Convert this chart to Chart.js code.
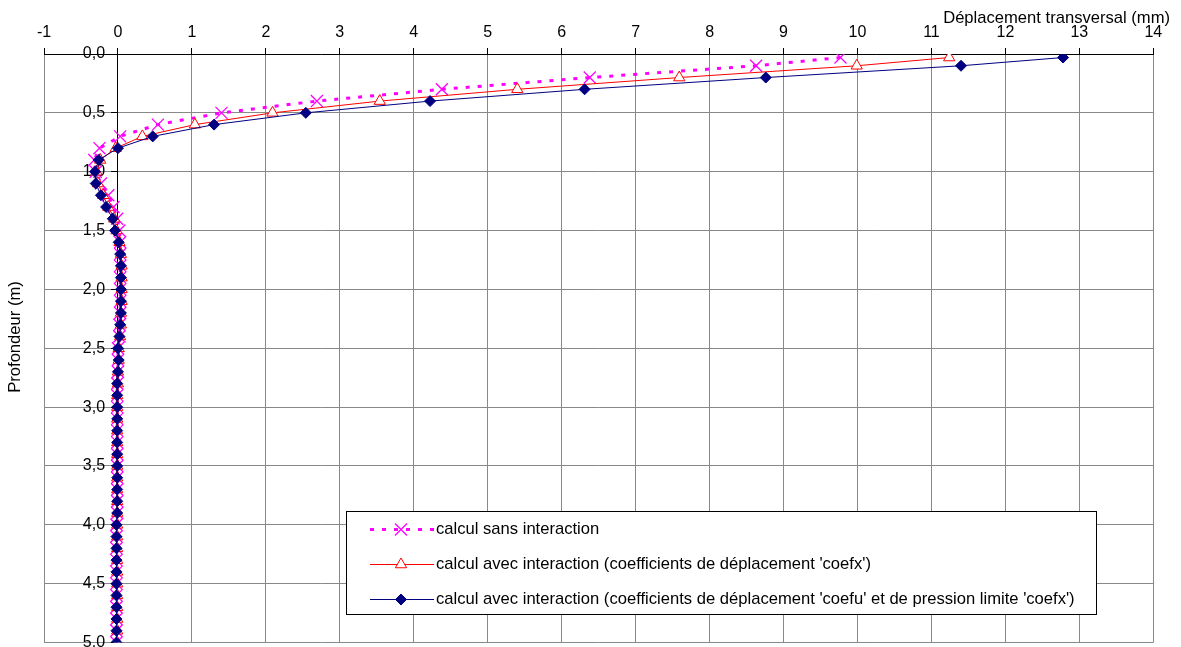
<!DOCTYPE html>
<html><head><meta charset="utf-8">
<script src="https://cdn.jsdelivr.net/npm/chart.js@4/dist/chart.umd.min.js"></script>
<style>html,body{margin:0;padding:0;background:#fff;overflow:hidden}#wrap{width:1181px;height:647px;position:relative}</style>
</head><body><div id="wrap"><canvas id="c" width="1181" height="647"></canvas></div>
<script>
// Depth (m) of each computed point
const depths = [0.03, 0.1, 0.2, 0.3, 0.4, 0.5, 0.6, 0.7, 0.8, 0.9, 1.0, 1.1, 1.2, 1.3, 1.4, 1.5, 1.6, 1.7, 1.8, 1.9, 2.0, 2.1, 2.2, 2.3, 2.4, 2.5, 2.6, 2.7, 2.8, 2.9, 3.0, 3.1, 3.2, 3.3, 3.4, 3.5, 3.6, 3.7, 3.8, 3.9, 4.0, 4.1, 4.2, 4.3, 4.4, 4.5, 4.6, 4.7, 4.8, 4.9, 5.0];

// Transverse displacement (mm)
const sansInteraction = [9.77, 8.63, 6.38, 4.38, 2.69, 1.40, 0.54, 0.03, -0.25, -0.32, -0.30, -0.23, -0.13, -0.06, -0.01, 0.02, 0.03, 0.03, 0.03, 0.03, 0.03, 0.03, 0.03, 0.02, 0.02, 0.00, 0.00, 0.00, -0.01, -0.01, -0.01, -0.01, -0.01, -0.01, -0.01, -0.01, -0.01, -0.01, -0.01, -0.01, -0.02, -0.02, -0.02, -0.02, -0.02, -0.02, -0.02, -0.02, -0.02, -0.02, -0.02];
const avecCoefx = [11.24, 9.99, 7.59, 5.40, 3.54, 2.09, 1.04, 0.33, -0.03, -0.24, -0.29, -0.27, -0.20, -0.13, -0.05, -0.02, 0.02, 0.04, 0.05, 0.05, 0.05, 0.05, 0.04, 0.04, 0.03, 0.01, 0.01, 0.00, 0.00, -0.01, -0.01, -0.01, -0.01, -0.01, -0.01, -0.01, -0.01, -0.01, -0.01, -0.01, -0.01, -0.01, -0.01, -0.01, -0.01, -0.01, -0.01, -0.01, -0.01, -0.01, -0.01];
const avecCoefu = [12.78, 11.40, 8.76, 6.31, 4.22, 2.54, 1.30, 0.47, 0.00, -0.26, -0.31, -0.30, -0.23, -0.16, -0.07, -0.04, 0.01, 0.03, 0.04, 0.04, 0.04, 0.04, 0.04, 0.03, 0.02, 0.00, 0.01, 0.00, -0.01, -0.01, -0.01, -0.01, -0.01, -0.01, -0.01, -0.01, -0.01, -0.01, -0.01, -0.01, -0.02, -0.02, -0.02, -0.02, -0.02, -0.02, -0.02, -0.02, -0.02, -0.02, -0.02];

const seriesNames = [
  "calcul sans interaction",
  "calcul avec interaction (coefficients de déplacement 'coefx')",
  "calcul avec interaction (coefficients de déplacement 'coefu' et de pression limite 'coefx')"
];
const xTickLabels = ['-1','0','1','2','3','4','5','6','7','8','9','10','11','12','13','14'];
const yTickLabels = ['0,0','0,5','1,0','1,5','2,0','2,5','3,0','3,5','4,0','4,5','5,0'];
const xTitle = 'Déplacement transversal (mm)';
const yTitle = 'Profondeur (m)';

const FONT = '"Liberation Sans", Arial, sans-serif';
const FS = 16;
const FT = 16.6;
const pts = vals => depths.map((d, i) => ({x: vals[i], y: d}));

const overlay = {
  id: 'overlay',
  afterDraw(chart) {
    const ctx = chart.ctx;
    ctx.save();
    ctx.font = FT + 'px ' + FONT;
    ctx.fillStyle = '#000';
    // axis titles
    ctx.textAlign = 'right'; ctx.textBaseline = 'middle';
    ctx.fillText(xTitle, 1170, 18);
    ctx.save();
    ctx.translate(15, 337); ctx.rotate(-Math.PI / 2);
    ctx.textAlign = 'center';
    ctx.fillText(yTitle, 0, 0);
    ctx.restore();
    // legend box
    const L = 346.5, T = 511.5, R = 1096.5, B = 614.5;
    ctx.fillStyle = '#fff'; ctx.fillRect(L, T, R - L, B - T);
    ctx.strokeStyle = '#000'; ctx.lineWidth = 1; ctx.strokeRect(L, T, R - L, B - T);
    chart.data.datasets.forEach((ds, i) => {
      const y = 529.5 + i * 35;
      ctx.beginPath();
      ctx.setLineDash(ds.borderDash || []);
      ctx.lineWidth = ds.borderWidth; ctx.strokeStyle = ds.borderColor;
      ctx.moveTo(370, y); ctx.lineTo(434, y); ctx.stroke();
      ctx.setLineDash([]);
      ctx.fillStyle = ds.pointBackgroundColor; ctx.strokeStyle = ds.pointBorderColor;
      ctx.lineWidth = ds.pointBorderWidth;
      Chart.helpers.drawPoint(ctx, {pointStyle: ds.pointStyle, radius: ds.pointRadius, borderWidth: ds.pointBorderWidth, rotation: 0}, 401, y);
      ctx.fillStyle = '#000';
      ctx.textAlign = 'left'; ctx.textBaseline = 'middle';
      ctx.font = FT + 'px ' + FONT;
      ctx.fillText(seriesNames[i], 436, y);
    });
    ctx.restore();
  }
};

const noPad = s => { s.paddingTop = 0; s.paddingBottom = 0; s.paddingLeft = 0; s.paddingRight = 0; };

new Chart(document.getElementById('c'), {
  type: 'scatter',
  data: {
    datasets: [
      {label: seriesNames[0], data: pts(sansInteraction), showLine: true, order: 2,
       borderColor: '#FF00FF', borderWidth: 3, borderDash: [4, 8],
       pointStyle: 'crossRot', pointRadius: 8.5, pointBorderWidth: 1.3,
       pointBorderColor: '#FF00FF', pointBackgroundColor: '#FF00FF'},
      {label: seriesNames[1], data: pts(avecCoefx), showLine: true, order: 1,
       borderColor: '#FF0000', borderWidth: 1,
       pointStyle: 'triangle', pointRadius: 6.5, pointBorderWidth: 1,
       pointBorderColor: '#FF0000', pointBackgroundColor: '#FFFFFF'},
      {label: seriesNames[2], data: pts(avecCoefu), showLine: true, order: 0,
       borderColor: '#000080', borderWidth: 1,
       pointStyle: 'rectRot', pointRadius: 5.5, pointBorderWidth: 1,
       pointBorderColor: '#000080', pointBackgroundColor: '#000080'}
    ]
  },
  options: {
    responsive: false, animation: false, devicePixelRatio: 1,
    layout: {autoPadding: false, padding: {left: 44, right: 27.7, top: 16.8, bottom: 4.5}},
    plugins: {legend: {display: false}, tooltip: {enabled: false}},
    scales: {
      x: {
        type: 'linear', position: 'top', min: -1, max: 14,
        ticks: {stepSize: 1, autoSkip: false, maxRotation: 0, color: '#000', padding: 6,
                font: {family: FONT, size: FS}, callback: v => xTickLabels[Math.round(v) + 1]},
        grid: {color: '#888', tickColor: '#000', tickLength: 6, lineWidth: 1},
        border: {color: '#000', width: 1},
        afterFit: noPad
      },
      y: {
        type: 'linear', position: 'left', reverse: true, min: 0, max: 5,
        ticks: {stepSize: 0.5, autoSkip: false, color: '#000', mirror: true, padding: 38.8,
                font: {family: FONT, size: FS}, callback: v => yTickLabels[Math.round(v * 2)]},
        grid: {color: '#888', drawTicks: false, lineWidth: 1},
        border: {display: false},
        afterFit: s => { noPad(s); s.width = 0; }
      },
      yAxis0: {
        type: 'linear', position: {x: 0}, reverse: true, min: 0, max: 5,
        ticks: {stepSize: 0.5, display: false},
        grid: {drawOnChartArea: false, tickColor: '#000', tickLength: 6, lineWidth: 1},
        border: {color: '#000', width: 1},
        afterFit: noPad
      }
    }
  },
  plugins: [overlay]
});
</script></body></html>
